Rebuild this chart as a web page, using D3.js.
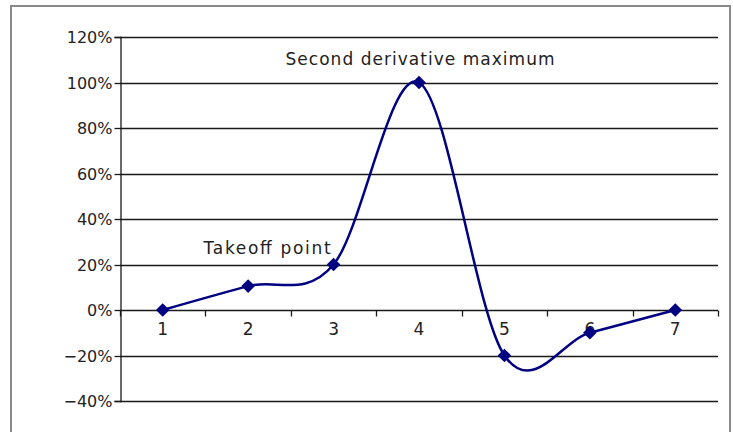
<!DOCTYPE html>
<html><head><meta charset="utf-8">
<script src="https://cdn.jsdelivr.net/npm/d3@7"></script>
<style>
html,body{margin:0;padding:0;background:#fff;}
svg{display:block;font-family:"DejaVu Sans",sans-serif;}
</style></head>
<body>
<svg id="chart" width="733" height="432"></svg>
<script>
const categories = ["1","2","3","4","5","6","7"];
const values = [0, 0.105, 0.20, 1.00, -0.20, -0.10, 0.0];
const yTicks = [-0.4, -0.2, 0, 0.2, 0.4, 0.6, 0.8, 1.0, 1.2];
const annotations = [
  {text: "Takeoff point", cat: "3", value: 0.20, width: 127},
  {text: "Second derivative maximum", cat: "4", value: 1.00, width: 269}
];

const svg = d3.select("#chart");
const L = 120, R = 718, T = 37, B = 401;

// outer frame
svg.append("rect").attr("x", 11).attr("y", 6).attr("width", 719).attr("height", 440)
  .attr("fill", "#fff").attr("stroke", "#8a8a8a").attr("stroke-width", 2);

const x = d3.scaleBand().domain(categories).range([L, R]).padding(0);
const y = d3.scaleLinear().domain([-0.4, 1.2]).range([B, T]);
const fmt = v => (v < 0 ? "\u2212" : "") + Math.round(Math.abs(v) * 100) + "%";

// gridlines
svg.append("g").selectAll("line").data(yTicks).join("line")
  .attr("x1", L).attr("x2", R)
  .attr("y1", d => Math.round(y(d)) + 0.5).attr("y2", d => Math.round(y(d)) + 0.5)
  .attr("stroke", "#1a1a1a").attr("stroke-width", 1.3);

// y axis
const yAxis = svg.append("g").attr("transform", `translate(${L + 0.5},0)`)
  .call(d3.axisLeft(y).tickValues(yTicks).tickFormat(fmt).tickSize(6).tickPadding(2));
yAxis.select(".domain").attr("stroke", "#1a1a1a").attr("stroke-width", 1.3);
yAxis.selectAll(".tick line").attr("stroke", "#1a1a1a").attr("stroke-width", 1.3);
yAxis.selectAll(".tick text").attr("font-size", 16).attr("fill", "#222")
  .attr("font-family", "DejaVu Sans").attr("dy", "0.36em");
yAxis.selectAll(".tick").attr("transform", d => `translate(0,${Math.round(y(d)) + 0.5})`);

// x axis at zero: ticks at band boundaries
const y0 = Math.round(y(0)) + 0.5;
const bounds = categories.map(c => x(c)).concat([x(categories[categories.length - 1]) + x.bandwidth()]);
svg.append("g").selectAll("line").data(bounds).join("line")
  .attr("x1", d => Math.round(d) + 0.5).attr("x2", d => Math.round(d) + 0.5)
  .attr("y1", y0).attr("y2", y0 + 6)
  .attr("stroke", "#1a1a1a").attr("stroke-width", 1.3);
svg.append("g").selectAll("text").data(categories).join("text")
  .attr("x", d => x(d) + x.bandwidth() / 2).attr("y", y0 + 24)
  .attr("text-anchor", "middle").attr("font-size", 17).attr("fill", "#222")
  .text(d => d);

// smoothed line
const pts = categories.map((c, i) => [x(c) + x.bandwidth() / 2, y(values[i])]);
svg.append("path").datum(pts)
  .attr("d", d3.line().curve(d3.curveCardinal.tension(0)))
  .attr("fill", "none").attr("stroke", "#000080").attr("stroke-width", 2.5);

// diamond markers
const diamond = d3.symbol().type(d3.symbolSquare).size(92);
svg.append("g").selectAll("path").data(pts).join("path")
  .attr("d", diamond())
  .attr("transform", d => `translate(${d[0]},${d[1]}) rotate(45)`)
  .attr("fill", "#000080");

// annotations
const ann0 = annotations[0];
svg.append("text")
  .attr("x", x(ann0.cat) + x.bandwidth() / 2 - 3 - ann0.width)
  .attr("y", y(ann0.value) - 11)
  .attr("font-size", 17).attr("fill", "#222")
  .attr("textLength", ann0.width).attr("lengthAdjust", "spacing")
  .text(ann0.text);
const ann1 = annotations[1];
svg.append("text")
  .attr("x", x(ann1.cat) + x.bandwidth() / 2 + 1 - ann1.width / 2)
  .attr("y", y(ann1.value) - 18)
  .attr("font-size", 17).attr("fill", "#222")
  .attr("textLength", ann1.width).attr("lengthAdjust", "spacing")
  .text(ann1.text);
</script>
</body></html>
